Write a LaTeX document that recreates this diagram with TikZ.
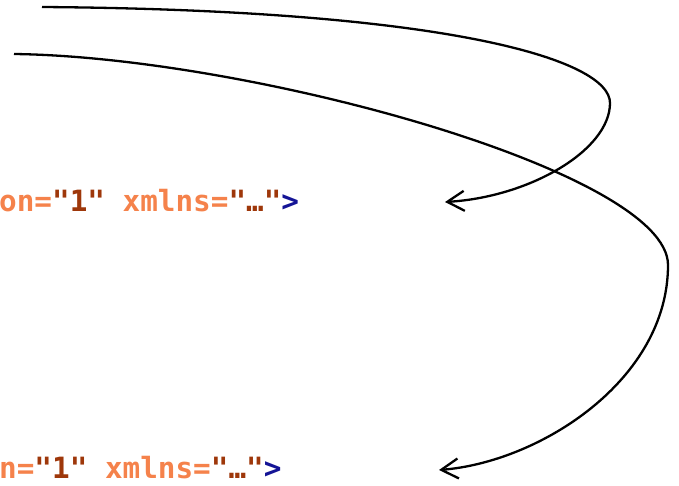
\documentclass[tikz,border=0pt]{standalone}
\usepackage{fontspec}
\newfontfamily\codefont{DejaVu Sans Mono}
\usetikzlibrary{arrows.meta}
\definecolor{attrc}{RGB}{245,130,75}
\definecolor{valc}{RGB}{158,55,10}
\definecolor{tagc}{RGB}{20,20,150}
\tikzset{
  codetext/.style={anchor=base west, inner sep=0pt, font=\codefont\bfseries\fontsize{29.3}{32}\selectfont},
  conn/.style={draw=black, line width=2.3pt, -{Straight Barb[length=17pt,width=20pt,line width=2.3pt]}}
}
\newcommand{\At}[1]{\textcolor{attrc}{#1}}
\newcommand{\Vl}[1]{\textcolor{valc}{#1}}
\newcommand{\Tg}[1]{\textcolor{tagc}{#1}}
\begin{document}
\begin{tikzpicture}[x=1pt,y=-1pt]
\useasboundingbox (0,0) rectangle (679,485);
\node[codetext] (t1) at (-1,211) {\At{on=}\Vl{"1"}\At{\ xmlns=}\Vl{"…"}\Tg{>}};
\node[codetext] (t2) at (-1,478) {\At{n=}\Vl{"1"}\At{\ xmlns=}\Vl{"…"}\Tg{>}};
\coordinate (s1) at (42,7);
\coordinate (m1) at (610,103);
\coordinate (e1) at (445,202);
\coordinate (s2) at (14,54);
\coordinate (m2) at (668,265);
\coordinate (e2) at (439,470);
\draw[conn] (s1) .. controls (450,10) and (610,60) .. (m1) .. controls (610,150) and (530,197) .. (e1);
\draw[conn] (s2) .. controls (250,57) and (668,172) .. (m2) .. controls (668,380) and (540,462) .. (e2);
\end{tikzpicture}
\end{document}
